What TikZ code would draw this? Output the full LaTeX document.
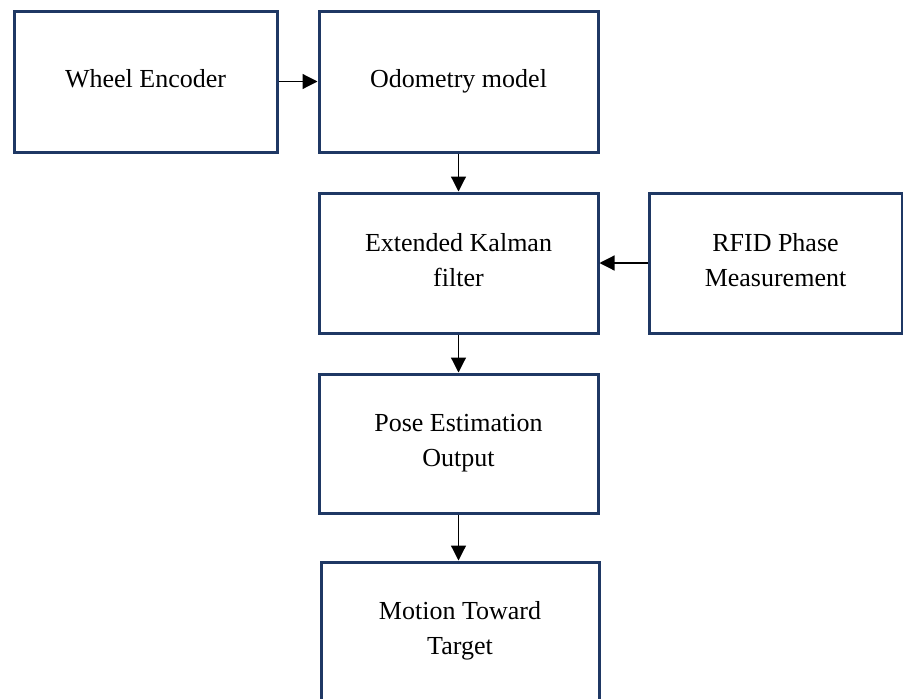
\documentclass[tikz,border=0pt]{standalone}
\usepackage{fontspec}
\setmainfont{Liberation Serif}
\usetikzlibrary{arrows.meta,positioning}
\newcommand{\boxstrut}{\rule[-6pt]{0pt}{24pt}}

\begin{document}
\begin{tikzpicture}[x=1pt,y=-1pt,
	block/.style={draw=navy,line width=3pt,rectangle,fill=white,align=center,
		font=\fontsize{26}{35}\selectfont,inner sep=0pt,
		execute at begin node=\boxstrut,execute at end node=\boxstrut},
	flow/.style={draw=black,line width=1.2pt,-{Triangle[length=15pt,width=15pt]}}
	]
	\definecolor{navy}{HTML}{1F3864}
	\useasboundingbox (0,0) rectangle (903,699);

	\node[block,minimum width=263pt,minimum height=141pt] (enc) at (145.5,81.5) {Wheel Encoder};
	\node[block,minimum width=279pt,minimum height=141pt] (odom) at (458.5,81.5) {Odometry model};
	\node[block,minimum width=279pt,minimum height=140pt] (ekf) at (458.5,263) {Extended Kalman\\filter};
	\node[block,minimum width=253pt,minimum height=140pt] (rfid) at (775.5,263) {RFID Phase\\Measurement};
	\node[block,minimum width=279pt,minimum height=139pt] (pose) at (458.5,443.5) {Pose Estimation\\Output};
	\node[block,minimum width=278pt,minimum height=138pt] (motion) at (460,631) {Motion Toward\\Target};

	% connectors
	\draw[flow] (enc) -- (odom);
	\draw[flow] (odom) -- (ekf);
	\draw[flow] (rfid) -- (ekf);
	\draw[flow] (ekf) -- (pose);
	\draw[flow] (pose.south) -- (pose.south |- motion.north);

\end{tikzpicture}
\end{document}
